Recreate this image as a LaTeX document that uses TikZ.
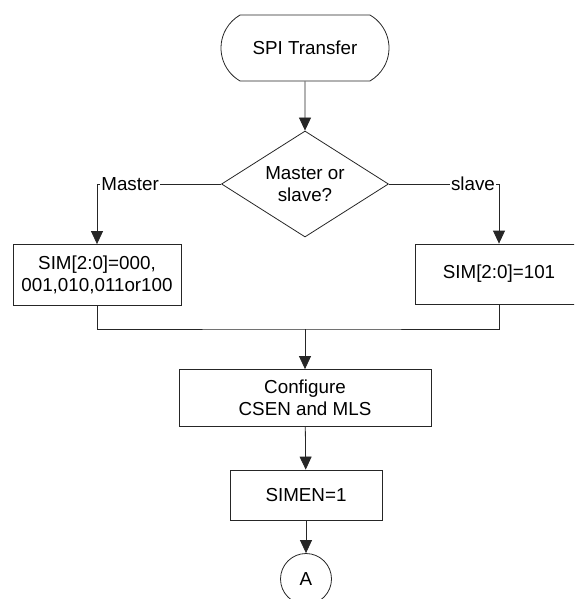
\documentclass[tikz,border=0pt]{standalone}
\usepackage{fontspec}
\setmainfont{Liberation Sans}
\usetikzlibrary{arrows.meta,positioning,shapes.geometric,shapes.misc}
\tikzset{
  flow/.style       = {line width=0.8pt, draw=black!85},
  flowarrow/.style  = {flow, -{Triangle[length=13pt,width=12pt]}},
  startstop/.style  = {rounded rectangle, rounded rectangle arc length=120,
                       draw=black!85, line width=0.8pt, inner sep=0pt,
                       minimum width=168pt, minimum height=66pt},
  decision/.style   = {diamond, draw=black!85, line width=0.8pt, aspect=1.6,
                       inner sep=0pt, minimum width=167pt, minimum height=106pt,
                       align=center},
  process/.style    = {rectangle, draw=black!85, line width=0.8pt,
                       inner sep=0pt, align=center},
  connector/.style  = {circle, draw=black!85, line width=0.8pt,
                       inner sep=0pt, minimum size=51pt},
  branchlabel/.style= {fill=white, inner sep=1.5pt},
}

\begin{document}
\begin{tikzpicture}[x=1pt,y=-1pt,
    every node/.style={font=\fontsize{18.8pt}{21.5pt}\selectfont}]
  \useasboundingbox (0,0) rectangle (574,599);
  \clip (0,0) rectangle (574,599);

  % ---- nodes -------------------------------------------------------------
  \node[startstop] (start) at (305,48) {SPI Transfer};
  \node[decision]  (mode)  at (305,184) {Master or\\slave?};
  \node[process, minimum width=168pt, minimum height=61pt] (simmaster) at (97,275)
      {SIM[2:0]=000,\\001,010,011or100};
  \node[process, minimum width=168pt, minimum height=60pt] (simslave) at (499,274)
      {SIM[2:0]=101};
  \node[process, minimum width=252pt, minimum height=57pt] (config) at (305,398)
      {Configure\\CSEN and MLS};
  \node[process, minimum width=152pt, minimum height=50pt] (simen) at (306,495)
      {SIMEN=1};
  \node[connector] (conA) at (306,579) {A};
  \coordinate (merge) at (305,329);

  % ---- connectors --------------------------------------------------------
  \draw[flowarrow] (start) -- (mode);
  \draw[flowarrow] (mode.west) -| node[branchlabel, pos=0.49, anchor=west] {Master}
      (simmaster.north);
  \draw[flowarrow] (mode.east) -| node[branchlabel, pos=0.49, anchor=east] {slave}
      (simslave.north);
  \draw[flow] (simmaster.south) |- (merge) -| (simslave.south);
  \draw[flowarrow] (merge) -- (config);
  \draw[flowarrow] (config) -- (simen);
  \draw[flowarrow] (simen) -- (conA);
\end{tikzpicture}
\end{document}
